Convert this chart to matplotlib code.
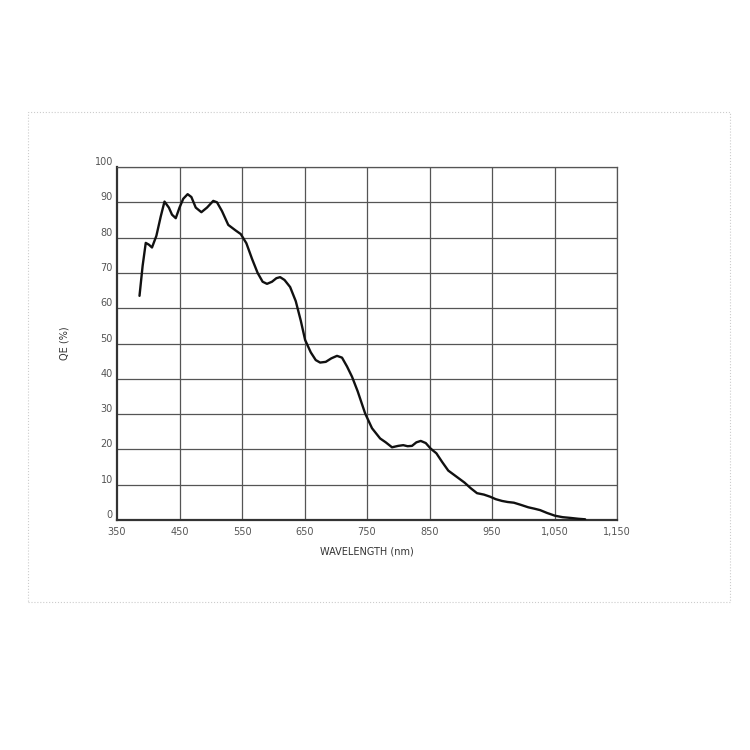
import matplotlib.pyplot as plt
from matplotlib.patches import Rectangle

# QE curve
wavelength_nm = [386, 391, 396, 401, 406, 413, 420, 426, 433, 438, 444, 450, 456,
                 463, 469, 476, 485, 494, 504, 510, 518, 528, 540, 548, 557, 566,
                 575, 583, 590, 598, 605, 611, 618, 627, 636, 644, 651, 660, 668,
                 675, 684, 693, 702, 710, 718, 726, 735, 747, 758, 771, 780, 790,
                 800, 808, 815, 822, 829, 836, 844, 852, 861, 870, 880, 893, 906,
                 916, 926, 937, 947, 956, 966, 975, 985, 996, 1008, 1018, 1027,
                 1038, 1051, 1063, 1075, 1088, 1099]
qe_pct = [63.5, 72.0, 78.5, 78.0, 77.2, 80.5, 86.0, 90.2, 88.5, 86.5, 85.5, 88.5,
          91.0, 92.3, 91.5, 88.5, 87.2, 88.5, 90.4, 90.0, 87.5, 83.6, 82.0, 81.0,
          78.4, 74.0, 70.0, 67.5, 66.9, 67.5, 68.5, 68.8, 68.0, 66.0, 62.0, 56.5,
          51.0, 47.5, 45.3, 44.6, 44.8, 45.8, 46.5, 46.0, 43.5, 40.6, 36.5, 30.2,
          26.0, 23.1, 22.0, 20.6, 21.0, 21.2, 20.9, 21.0, 22.0, 22.4, 21.8, 20.2,
          18.9, 16.5, 14.0, 12.3, 10.6, 9.0, 7.6, 7.2, 6.6, 5.9, 5.4, 5.1, 4.9,
          4.3, 3.6, 3.2, 2.8, 2.0, 1.2, 0.8, 0.6, 0.35, 0.2]

x_ticks = [350, 450, 550, 650, 750, 850, 950, 1050, 1150]
x_tick_labels = ["350", "450", "550", "650", "750", "850", "950", "1,050", "1,150"]
y_ticks = [0, 10, 20, 30, 40, 50, 60, 70, 80, 90, 100]

grid_color = "#555555"
label_color = "#555555"

fig = plt.figure(figsize=(7.5, 7.5), dpi=100)
fig.patches.append(Rectangle((28 / 750, 148 / 750), 702 / 750, 490 / 750,
                             transform=fig.transFigure, fill=False,
                             edgecolor="#cccccc", linestyle=":", linewidth=0.8))

ax = fig.add_axes([117 / 750, 230 / 750, 500 / 750, 353 / 750])
ax.set_xlim(350, 1150)
ax.set_ylim(0, 100)

for xv in x_ticks[1:]:
    ax.axvline(xv, color=grid_color, linewidth=0.9, zorder=1)
for yv in y_ticks[1:]:
    ax.axhline(yv, color=grid_color, linewidth=0.9, zorder=1)

ax.plot(wavelength_nm, qe_pct, color="#111111", linewidth=1.7, zorder=3,
        solid_capstyle="round", solid_joinstyle="round")

for side in ["top", "right"]:
    ax.spines[side].set_color(grid_color)
    ax.spines[side].set_linewidth(0.9)
for side in ["left", "bottom"]:
    ax.spines[side].set_color("#333333")
    ax.spines[side].set_linewidth(1.6)

ax.set_xticks(x_ticks)
ax.set_xticklabels(x_tick_labels)
ax.set_yticks(y_ticks)
ax.tick_params(axis="both", length=0, labelsize=7, colors=label_color)
ax.tick_params(axis="x", pad=5)
ax.tick_params(axis="y", pad=3)
for lbl in ax.get_yticklabels():
    lbl.set_verticalalignment("bottom")

ax.set_xlabel("WAVELENGTH (nm)", fontsize=7, color="#333333", labelpad=7)
ax.set_ylabel("QE (%)", fontsize=7, color="#333333", labelpad=18)

fig.savefig("out.png", dpi=100, facecolor="white")
